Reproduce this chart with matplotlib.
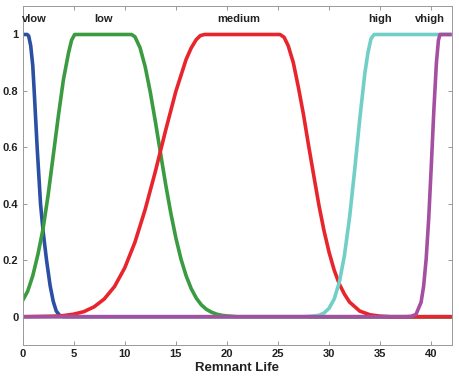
"""Fuzzy membership functions for remnant life (vlow .. vhigh)."""

import matplotlib
matplotlib.use("Agg")
import matplotlib.pyplot as plt

plt.rcParams["font.family"] = ["Liberation Sans", "DejaVu Sans"]
plt.rcParams["font.weight"] = "bold"

# membership curves
vlow_x = [0, 0.45, 0.6, 0.8, 1.0, 1.14, 1.43, 1.76, 2.02, 2.35, 2.7, 3.0, 3.3,
          3.65, 4.0, 42]
vlow_y = [1, 1, 0.995, 0.96, 0.89, 0.8, 0.6, 0.4, 0.3, 0.2, 0.11, 0.055, 0.02,
          0.004, 0, 0]

low_x = [0, 0.5, 1.0, 1.5, 2.0, 2.5, 3.0, 3.5, 4.0, 4.5, 4.8, 5.1,
         10.66, 11.0, 11.5, 12.0, 12.5, 13.0, 13.5, 14.0, 14.5, 15.0, 15.5,
         16.0, 16.5, 17.0, 17.5, 18.0, 18.5, 19.0, 19.5, 20.0, 21.0, 42]
low_y = [0.057, 0.09, 0.145, 0.22, 0.31, 0.43, 0.57, 0.71, 0.84, 0.935, 0.98, 1.0,
         1.0, 0.992, 0.953, 0.886, 0.796, 0.691, 0.58, 0.47, 0.369, 0.28, 0.205,
         0.146, 0.1, 0.066, 0.042, 0.026, 0.016, 0.009, 0.005, 0.003, 0, 0]

medium_x = [0, 3.0, 4.0, 5.0, 6.0, 7.0, 8.0, 9.0, 10.0, 11.0, 12.0, 13.0, 14.0,
            15.0, 16.0, 16.5, 17.0, 17.4, 17.8, 25.2, 25.6, 26.0, 26.5, 27.0,
            27.5, 28.0, 28.5, 29.0, 29.5, 30.0, 30.5, 31.0, 31.5, 32.0, 33.0,
            34.0, 35.0, 36.0, 42]
medium_y = [0, 0.002, 0.004, 0.009, 0.018, 0.035, 0.063, 0.107, 0.173, 0.264,
            0.38, 0.515, 0.66, 0.798, 0.911, 0.952, 0.982, 0.996, 1.0, 1.0,
            0.99, 0.96, 0.9, 0.812, 0.715, 0.605, 0.5, 0.396, 0.305, 0.228,
            0.165, 0.116, 0.08, 0.052, 0.02, 0.007, 0.002, 0, 0]

high_x = [0, 27.5, 28.0, 29.0, 29.5, 30.0, 30.5, 31.0, 31.5, 32.0, 32.5, 33.0,
          33.5, 33.8, 34.1, 34.4, 42]
high_y = [0, 0, 0.001, 0.005, 0.013, 0.03, 0.063, 0.122, 0.217, 0.351, 0.519,
          0.70, 0.863, 0.935, 0.985, 1.0, 1.0]

vhigh_x = [0, 37.5, 38.0, 38.5, 39.0, 39.25, 39.5, 39.75, 40.0, 40.25, 40.5,
           40.7, 40.85, 42]
vhigh_y = [0, 0, 0.001, 0.008, 0.051, 0.108, 0.205, 0.349, 0.534, 0.731, 0.899,
           0.98, 1.0, 1.0]

labels = ["vlow", "low", "medium", "high", "vhigh"]
label_x = [1.2, 7.9, 21.2, 35.0, 39.9]
colors = ["#2b4fa3", "#3a9b40", "#e8252c", "#72cfc8", "#a54fa0"]

fig = plt.figure(figsize=(4.6, 3.92), dpi=100)
ax = fig.add_axes([0.049, 0.12, 0.933, 0.864])

curves = [(vlow_x, vlow_y), (low_x, low_y), (medium_x, medium_y),
          (high_x, high_y), (vhigh_x, vhigh_y)]
for (xs, ys), c in zip(curves, colors):
    ax.plot(xs, ys, color=c, lw=2.6, solid_capstyle="butt",
            solid_joinstyle="round")

for name, lx in zip(labels, label_x):
    ax.text(lx, 1.055, name, ha="center", va="center", fontsize=8,
            fontweight="bold", color="#222222")

ax.set_xlim(0, 42)
ax.set_ylim(-0.1, 1.1)
ax.set_xticks(range(0, 41, 5))
ax.set_yticks([0, 0.2, 0.4, 0.6, 0.8, 1])
ax.set_yticklabels(["0", "0.2", "0.4", "0.6", "0.8", "1"])
ax.tick_params(direction="in", length=3, width=0.6, color="#888888",
               labelsize=8, labelcolor="#222222", top=True, right=True, pad=3)
for lab in ax.get_xticklabels() + ax.get_yticklabels():
    lab.set_fontweight("bold")
for sp in ax.spines.values():
    sp.set_color("#999999")
    sp.set_linewidth(0.7)
ax.set_xlabel("Remnant Life", fontsize=9.5, fontweight="bold", color="#222222",
              labelpad=2)

fig.savefig("out.png", dpi=100)
